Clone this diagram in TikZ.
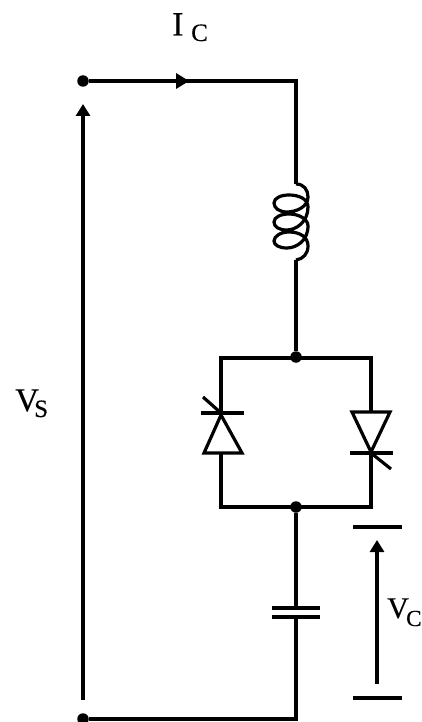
\documentclass[tikz,border=0pt]{standalone}
\usepackage{fontspec}
\setmainfont[FakeBold=0.35]{Liberation Serif}
\usetikzlibrary{arrows.meta}
\tikzset{
  wire/.style={line width=3.2pt,line join=miter,black},
  dot/.style={circle,fill=black,inner sep=0pt,minimum size=11.5pt},
  volt/.style={wire,-{Triangle[length=12pt,width=14pt]}},
  big/.style={inner sep=0pt,font=\fontsize{33}{33}\selectfont},
  subs/.style={inner sep=0pt,font=\fontsize{25}{25}\selectfont},
}
\begin{document}
\begin{tikzpicture}[x=1pt,y=-1pt]
\useasboundingbox (0,0) rectangle (421,722);
% terminals and junctions
\node[dot] (t1) at (83,81) {};
\node[dot] (t2) at (83,719) {};
\node[dot] (j1) at (296,357) {};
\node[dot] (j2) at (296,507) {};
\coordinate (c1) at (296,81);
\coordinate (c2) at (296,719);
\coordinate (lt) at (296,184);
\coordinate (lb) at (296,260);
\coordinate (capt) at (296,608);
\coordinate (capb) at (296,617);
% top wire and current arrow
\draw[wire] (t1) -- (c1) -- (lt);
\fill (176,73) -- (189,81) -- (176,89) -- cycle;
% inductor
\draw[wire,line join=round]
  (lt) .. controls (304,184) and (308,190) .. (308,197)
  .. controls (308,207) and (296,212) .. (287,212)
  .. controls (279,212) and (274,208) .. (274,203)
  .. controls (274,198) and (281,195) .. (289,195)
  .. controls (299,195) and (308,199) .. (308,207)
  .. controls (308,222) and (296,230) .. (287,230)
  .. controls (279,230) and (274,227) .. (274,222)
  .. controls (274,217) and (281,214) .. (289,214)
  .. controls (299,214) and (308,219) .. (308,226)
  .. controls (308,241) and (296,248) .. (287,248)
  .. controls (279,248) and (274,245) .. (274,241)
  .. controls (274,236) and (281,232) .. (289,232)
  .. controls (300,232) and (308,237) .. (308,246)
  .. controls (308,254) and (303,259) .. (lb);
\draw[wire] (lb) -- (j1);
% parallel branches
\coordinate (a1) at (221,358);
\coordinate (a2) at (371,358);
\coordinate (b1) at (221,507);
\coordinate (b2) at (371,507);
\coordinate (lk) at (221,413);
\coordinate (la) at (221,453);
\coordinate (rk) at (371,453);
\coordinate (ra) at (371,412);
\draw[wire] (lk) -- (a1) -- (a2) -- (ra);
\draw[wire] (la) -- (b1) -- (b2) -- (rk);
% left thyristor
\draw[wire] (221,415) -- (204,453) -- (242,453) -- cycle;
\draw[wire] (201,413) -- (244,413);
\draw[wire] (203,397) -- (lk);
% right thyristor
\draw[wire] (352,412) -- (390,412) -- (371,452) -- cycle;
\draw[wire] (350,453) -- (393,453);
\draw[wire] (rk) -- (391,469);
% capacitor
\draw[wire] (j2) -- (capt);
\draw[wire] (272,608) -- (320,608);
\draw[wire] (272,617) -- (320,617);
\draw[wire] (capb) -- (c2) -- (t2);
% source voltage arrow
\coordinate (vsb) at (83,700);
\coordinate (vst) at (83,104);
\draw[volt] (vsb) -- (vst);
% capacitor voltage
\coordinate (vcb) at (377,684);
\coordinate (vct) at (377,540);
\draw[wire] (353,527) -- (402,527);
\draw[wire] (353,698) -- (402,698);
\draw[volt] (vcb) -- (vct);
% labels
\node[big,anchor=base west,font=\fontsize{34}{34}\selectfont] (ic) at (172,35.5) {I};
\node[subs,anchor=base west] (icc) at (191,41) {C};
\node[big,anchor=base west] (vs) at (15,411) {V};
\node[subs,anchor=base west] (vss) at (34,417) {S};
\node[big,anchor=base west,font=\fontsize{30}{30}\selectfont] (vc) at (387,618) {V};
\node[subs,anchor=base west,font=\fontsize{23}{23}\selectfont] (vcs) at (406,626) {C};
\end{tikzpicture}
\end{document}
